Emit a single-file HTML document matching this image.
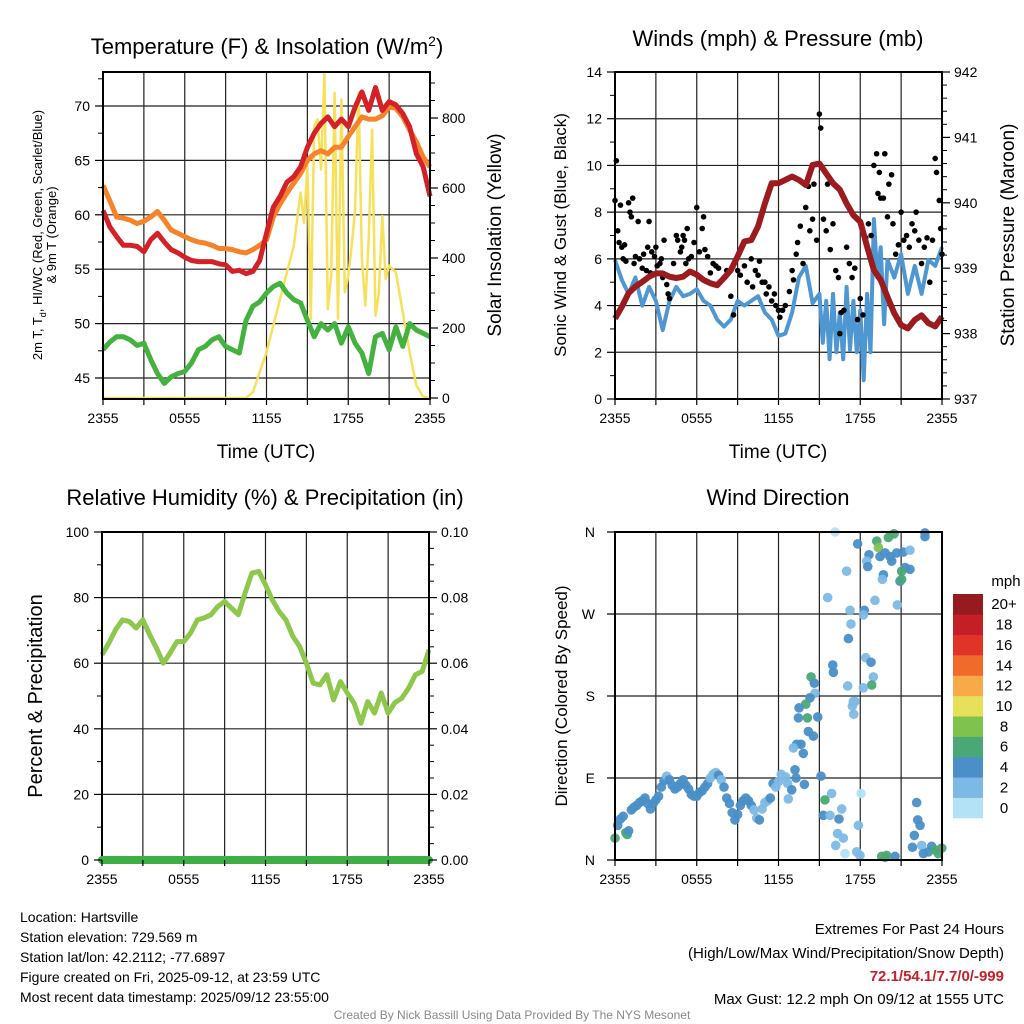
<!DOCTYPE html>
<html><head><meta charset="utf-8">
<style>
html,body{margin:0;padding:0;background:#fff;}
svg{display:block;font-family:"Liberation Sans",Arial,sans-serif;}
</style></head>
<body>
<svg id="chart" width="1024" height="1024" viewBox="0 0 1024 1024" xmlns="http://www.w3.org/2000/svg">
<rect x="0" y="0" width="1024" height="1024" fill="#fff"/>
<!-- titles -->
<text x="267" y="54" font-size="22" text-anchor="middle">Temperature (F) &amp; Insolation (W/m<tspan dy="-8" font-size="14">2</tspan><tspan dy="8">)</tspan></text>
<text x="778" y="46" font-size="22" text-anchor="middle">Winds (mph) &amp; Pressure (mb)</text>
<text x="265" y="505" font-size="22" text-anchor="middle">Relative Humidity (%) &amp; Precipitation (in)</text>
<text x="778" y="505" font-size="22" text-anchor="middle">Wind Direction</text>
<!-- axis titles -->
<text x="266" y="458" font-size="19" text-anchor="middle">Time (UTC)</text>
<text x="778" y="458" font-size="19" text-anchor="middle">Time (UTC)</text>
<text transform="translate(42,235) rotate(-90)" font-size="13" text-anchor="middle">2m T, T<tspan dy="4" font-size="9">d</tspan><tspan dy="-4">, HI/WC (Red, Green, Scarlet/Blue)</tspan></text>
<text transform="translate(56,235) rotate(-90)" font-size="13" text-anchor="middle">&amp; 9m T (Orange)</text>
<text transform="translate(501,235) rotate(-90)" font-size="19" text-anchor="middle">Solar Insolation (Yellow)</text>
<text transform="translate(566,235) rotate(-90)" font-size="17" text-anchor="middle">Sonic Wind &amp; Gust (Blue, Black)</text>
<text transform="translate(1014,235) rotate(-90)" font-size="19" text-anchor="middle">Station Pressure (Maroon)</text>
<text transform="translate(42,696) rotate(-90)" font-size="20" text-anchor="middle">Percent &amp; Precipitation</text>
<text transform="translate(567,696) rotate(-90)" font-size="17" text-anchor="middle">Direction (Colored By Speed)</text>
<!-- footer -->
<g font-size="14">
<text x="20" y="922">Location: Hartsville</text>
<text x="20" y="942">Station elevation: 729.569 m</text>
<text x="20" y="962">Station lat/lon: 42.2112; -77.6897</text>
<text x="20" y="982">Figure created on Fri, 2025-09-12, at 23:59 UTC</text>
<text x="20" y="1002">Most recent data timestamp: 2025/09/12 23:55:00</text>
</g>
<g font-size="15" text-anchor="end">
<text x="1004" y="934">Extremes For Past 24 Hours</text>
<text x="1004" y="958">(High/Low/Max Wind/Precipitation/Snow Depth)</text>
<text x="1004" y="981" fill="#c8202a" font-weight="bold">72.1/54.1/7.7/0/-999</text>
<text x="1004" y="1004">Max Gust: 12.2 mph On 09/12 at 1555 UTC</text>
</g>
<text x="512" y="1019" font-size="12" fill="#888" text-anchor="middle">Created By Nick Bassill Using Data Provided By The NYS Mesonet</text>
<g id="layer"></g>
</svg>
<script>
// ---------- DATA ----------
const tempTimes = [0,0.5,1,1.5,2,2.5,3,3.5,4,4.5,5,5.5,6,6.5,7,7.5,8,8.5,9,9.5,10,10.5,11,11.5,12,12.5,13,13.5,14,14.5,15,15.5,16,16.5,17,17.5,18,18.5,19,19.5,20,20.5,21,21.5,22,22.5,23,23.5,24];
const temp2m = [60.4,58.9,58.0,57.2,57.2,57.1,56.6,57.7,58.3,57.5,56.8,56.5,56.1,55.8,55.7,55.7,55.7,55.5,55.4,54.8,54.9,54.6,54.8,55.8,58.3,60.7,61.7,63.0,63.5,64.4,66.2,67.5,68.4,69.0,68.1,68.8,68.1,69.9,71.3,69.6,71.7,69.6,70.4,70.1,69.3,68.1,65.6,64.4,61.7];
const temp9m = [62.7,61.3,59.8,59.7,59.5,59.2,59.4,59.8,60.3,59.5,58.6,58.3,58.0,57.7,57.5,57.4,57.2,56.9,56.9,56.8,56.6,56.5,56.8,57.2,57.7,59.8,61.0,62.0,62.9,63.8,65.0,65.6,65.9,65.6,66.2,66.2,67.2,68.1,69.0,68.8,68.8,69.1,69.9,69.8,69.0,67.8,66.7,65.3,64.4];
const dewpoint = [47.6,48.3,48.8,48.8,48.5,48.0,48.2,46.7,45.4,44.5,45.1,45.4,45.6,46.4,47.6,47.9,48.5,48.8,47.9,47.6,47.3,50.3,51.6,52.0,52.8,53.4,53.7,52.8,52.2,51.9,50.3,48.8,50.0,49.4,50.0,48.2,49.7,48.2,47.3,45.4,48.8,49.1,47.6,49.7,47.9,50.0,49.4,49.1,48.8];
const solarTimes = [0,10.5,11,11.5,12,12.5,13,13.5,14,14.5,14.75,15,15.25,15.5,15.75,16,16.25,16.5,16.75,17,17.25,17.5,17.75,18,18.25,18.5,18.75,19,19.25,19.5,19.75,20,20.25,20.5,20.75,21,21.5,22,22.5,23,23.5,24];
const solar = [0,0,17,74,131,207,283,359,435,587,501,663,226,777,796,653,929,254,349,872,226,853,302,349,435,539,872,397,264,454,767,235,302,520,340,378,359,245,131,36,3,0];
const windTimes = [0,0.5,1,1.5,2,2.5,3,3.5,4,4.5,5,5.5,6,6.5,7,7.5,8,8.5,9,9.5,10,10.5,11,11.5,12,12.5,13,13.5,14,14.5,15,15.25,15.5,15.75,16,16.25,16.5,16.75,17,17.25,17.5,17.75,18,18.25,18.5,18.75,19,19.25,19.5,19.75,20,20.5,21,21.5,22,22.5,23,23.5,24];
const wind = [5.95,5.1,4.5,5.2,4.0,4.8,4.2,2.95,4.2,4.8,4.4,4.5,4.7,4.2,4.0,3.4,3.1,3.4,4.2,4.0,4.2,4.4,3.7,3.4,2.7,2.8,3.7,5.2,5.7,4.1,4.5,2.4,4.2,1.7,4.5,2.0,3.7,1.7,4.8,2.1,4.2,2.0,3.8,0.8,4.5,2.0,7.7,5.2,6.5,3.2,5.95,5.2,6.2,4.5,5.7,4.5,5.95,5.7,6.5];
const pressure = [938.23,938.41,938.62,938.72,938.79,938.87,938.92,938.92,938.87,938.85,938.87,938.95,938.90,938.82,938.77,938.74,938.85,938.97,939.18,939.41,939.43,939.64,939.99,940.30,940.30,940.35,940.40,940.35,940.27,940.58,940.60,940.45,940.30,940.20,939.99,939.81,939.71,939.33,938.97,938.82,938.56,938.31,938.13,938.08,938.21,938.28,938.16,938.11,938.26];
const gustTimes = [0.0,0.1,0.2,0.3,0.4,0.5,0.6,0.7,0.8,1.0,1.1,1.2,1.3,1.4,1.5,1.7,1.8,2.0,2.1,2.3,2.4,2.5,2.6,2.7,2.9,3.0,3.1,3.3,3.4,3.5,3.6,3.8,3.9,4.0,4.3,4.5,4.6,4.8,4.9,5.0,5.1,5.2,5.3,5.4,5.6,5.8,6.0,6.2,6.4,6.5,6.6,6.8,7.0,7.2,7.4,7.6,8.0,8.2,8.5,8.7,9.0,9.2,9.4,9.5,9.7,10.0,10.1,10.3,10.5,10.6,10.8,11.0,11.1,11.3,11.5,11.7,11.8,12.0,12.1,12.3,12.5,12.8,13.0,13.1,13.3,13.4,13.6,13.8,14.0,14.2,14.3,14.5,14.6,14.8,15.0,15.1,15.3,15.5,15.6,15.8,16.0,16.2,16.4,16.5,16.6,16.8,17.0,17.2,17.4,17.6,17.8,18.0,18.2,18.4,18.6,18.8,19.0,19.2,19.3,19.4,19.5,19.7,19.8,20.0,20.1,20.3,20.4,20.6,20.8,21.0,21.2,21.4,21.6,21.8,22.0,22.1,22.3,22.5,22.7,22.9,23.1,23.3,23.5,23.6,23.8,23.9,24.0];
const gust = [8.5,10.2,7.2,6.7,8.3,6.5,6.0,6.6,5.9,8.4,8.0,7.8,8.6,5.8,6.1,7.6,6.0,5.6,6.2,5.5,6.5,7.6,5.4,6.3,6.1,6.5,5.7,5.8,6.0,5.2,6.8,4.9,4.5,4.3,5.8,7.0,6.8,6.3,6.5,7.0,6.8,5.8,7.3,6.0,6.1,6.7,8.2,6.3,7.3,7.8,6.4,6.1,5.4,5.8,5.7,5.6,5.2,5.5,4.4,3.6,5.5,5.3,6.6,5.7,5.0,6.0,4.8,5.5,5.3,5.9,5.0,5.0,4.5,4.8,4.2,4.5,4.0,3.8,3.5,3.8,4.0,4.6,5.5,5.1,6.2,6.7,7.4,5.8,8.2,9.1,7.2,7.7,9.2,6.8,12.2,11.6,7.7,7.2,9.2,6.4,7.5,5.5,5.2,2.8,3.7,3.8,6.5,5.8,5.2,5.6,3.4,4.3,3.6,6.9,7.5,7.0,10.0,10.5,8.8,9.7,8.6,8.6,10.5,7.8,9.2,9.6,7.5,6.2,6.6,8.0,6.8,7.0,6.5,7.5,7.2,8.0,6.8,5.8,6.5,6.9,5.0,6.8,10.3,9.7,8.5,7.3,6.2];
const rhTimes = tempTimes;
const rh = [62.6,66.1,70.2,73.2,72.7,70.7,73.2,68.7,64.6,60.0,63.1,66.6,66.6,69.2,73.2,73.8,74.8,77.3,78.8,76.8,74.8,81.4,87.5,88.0,83.9,79.3,75.8,73.2,68.2,65.1,60.0,53.9,53.4,56.5,48.8,54.4,50.9,47.8,41.7,48.3,44.8,50.9,44.8,48.0,49.3,52.4,56.5,57.5,64.1];
const precipTimes = [0,24];
const precip = [0,0];
const dirTimes = [0.0,0.2,0.4,0.6,0.8,0.9,1.0,1.2,1.4,1.6,1.8,2.0,2.2,2.4,2.6,2.8,3.0,3.2,3.4,3.6,3.8,4.0,4.2,4.4,4.6,4.8,5.0,5.2,5.4,5.6,5.8,6.0,6.2,6.4,6.6,6.8,7.0,7.2,7.4,7.6,7.8,8.0,8.2,8.4,8.6,8.8,9.0,9.2,9.4,9.6,9.8,10.0,10.2,10.4,10.6,10.8,11.0,11.2,11.4,11.6,11.8,12.0,12.2,
15.41,15.29,15.78,16.44,16.64,16.34,16.76,16.20,16.88,15.12,15.90,18.06,17.86,17.74,17.98,
16.15,15.61,17.00,17.81,18.64,18.47,18.55,19.21,19.33,20.06,20.48,19.45,19.82,20.19,20.31,19.70,19.62,19.08,18.30,18.23,17.25,17.32,17.13,18.40,18.79,18.96,18.84,18.23,17.08,15.98,16.03,17.49,17.62,17.42,17.52,
14.39,14.63,14.68,14.31,14.00,13.51,13.46,14.12,14.88,14.19,14.56,13.33,13.65,13.09,13.82,13.21,13.29,13.90,12.53,12.67,12.97,12.72,
20.67,21.16,21.65,21.29,21.65,21.04,20.92,21.04,20.72,22.75,22.75,
22.14,22.22,22.39,21.97,21.83,22.51,22.63,23.0,23.24,23.49,23.73,23.98,20.55,19.57,19.94,19.82];
const dirDeg = [24,38,45,48,30,28,32,55,58,60,63,65,68,62,56,62,66,70,80,87,92,88,82,78,80,84,88,82,78,72,70,70,74,76,80,84,90,94,96,93,88,80,68,62,52,44,50,60,65,68,65,60,55,46,44,56,63,65,68,84,80,86,94,
66,49,49,45,56,29,24,16,7,92,73,73,38,9,5,
360,288,317,347,335,328,322,350,343,354,358,333,337,333,328,313,308,285,274,269,274,259,243,222,217,201,192,189,191,214,206,174,174,169,160,
201,194,183,178,171,167,156,156,157,141,136,127,127,123,117,99,90,83,91,84,77,67,
337,338,340,321,319,317,306,308,280,359,355,
63,44,38,27,14,16,7,9,15,11,7,13,4,4,5,3];
const dirSpeed = [6,4,4,4,6,6,4,4,4,4,4,4,4,4,4,4,4,4,4,4,2,4,4,4,4,4,4,4,4,4,4,4,4,4,4,4,2,2,2,4,2,4,4,4,4,4,4,4,4,4,4,4,2,2,4,2,2,2,4,4,2,2,2,
6,4,2,4,2,2,2,2,0,4,2,0,2,2,2,
0,2,2,4,4,2,4,6,8,6,6,4,4,4,4,4,2,2,4,2,2,2,4,2,4,2,6,2,2,4,4,2,2,2,2,
6,4,2,4,6,4,4,6,4,4,4,4,4,2,4,4,4,4,2,2,4,2,
4,4,2,4,4,6,4,6,2,4,4,
4,4,4,4,4,2,4,4,4,6,6,6,4,6,6,6];
const speedLabels = ["0","2","4","6","8","10","12","14","16","18","20+"];
const speedColors = ["#b3e2f7","#7db9e5","#4a8fc7","#4aa874","#7fc24e","#e6e05a","#f8aa48","#f06a2c","#e03428","#c41e26","#961a1e"];
const timeTicks = ["2355","0555","1155","1755","2355"];
const tempTicks = [45,50,55,60,65,70];
const solarTicks = [0,200,400,600,800];
const windTicks = [0,2,4,6,8,10,12,14];
const pressTicks = [937,938,939,940,941,942];
const rhTicks = [0,20,40,60,80,100];
const precipTicks = ["0.00","0.02","0.04","0.06","0.08","0.10"];
const dirTicks = ["N","E","S","W","N"];

// ---------- HELPERS ----------
const NS = "http://www.w3.org/2000/svg";
const layer = document.getElementById('layer');
function mk(tag, attrs, parent){
  const e = document.createElementNS(NS, tag);
  for (const k in attrs) e.setAttribute(k, attrs[k]);
  (parent||layer).appendChild(e);
  return e;
}
function lin(d0,d1,r0,r1){ return v => r0 + (v-d0)/(d1-d0)*(r1-r0); }
function linePath(xs, ys, fx, fy){
  return xs.map((t,i)=>(i?'L':'M')+fx(t).toFixed(1)+' '+fy(ys[i]).toFixed(1)).join(' ');
}
function panelFrame(name, L, R, T, B){
  const g = mk('g', {});
  
  
  const fx = lin(0,24,L,R);
  for (let h=3; h<24; h+=3){
    mk('line',{x1:fx(h),x2:fx(h),y1:T,y2:B,stroke:'#222','stroke-width':1.2},g);
  }
  return g;
}
function hgrid(g, ys, L, R){
  ys.forEach(y=>mk('line',{x1:L,x2:R,y1:y,y2:y,stroke:'#222','stroke-width':1.2},g));
}
function border(L,R,T,B,name){
  const r = mk('rect',{x:L,y:T,width:R-L,height:B-T,fill:'none',stroke:'#000','stroke-width':2});
  
  
}
function xTicks(L,R,B,name){
  const g = mk('g',{'font-size':14,'text-anchor':'middle'});
  
  
  const fx = lin(0,24,L,R);
  for (let h=0; h<=24; h+=3) mk('line',{x1:fx(h),x2:fx(h),y1:B,y2:B+6,stroke:'#000','stroke-width':1.2},g);
  timeTicks.forEach((s,i)=>{ const t=mk('text',{x:fx(i*6),y:B+24},g); t.textContent=s; });
}
function yTicksLeft(vals, labels, fy, L, name, minorVals){
  const g = mk('g',{'font-size':14,'text-anchor':'end'});
  
  
  vals.forEach((v,i)=>{
    mk('line',{x1:L-8,x2:L,y1:fy(v),y2:fy(v),stroke:'#000','stroke-width':1.2},g);
    const t=mk('text',{x:L-13,y:fy(v)+5},g); t.textContent=labels[i];
  });
  (minorVals||[]).forEach(v=>mk('line',{x1:L-5,x2:L,y1:fy(v),y2:fy(v),stroke:'#000','stroke-width':1},g));
}
function yTicksRight(vals, labels, fy, R, name, minorVals){
  const g = mk('g',{'font-size':14,'text-anchor':'start'});
  
  
  vals.forEach((v,i)=>{
    mk('line',{x1:R,x2:R+8,y1:fy(v),y2:fy(v),stroke:'#000','stroke-width':1.2},g);
    const t=mk('text',{x:R+12,y:fy(v)+5},g); t.textContent=labels[i];
  });
  (minorVals||[]).forEach(v=>mk('line',{x1:R,x2:R+5,y1:fy(v),y2:fy(v),stroke:'#000','stroke-width':1},g));
}
function range(a,b,s){const r=[];for(let v=a;v<=b+1e-9;v+=s)r.push(+v.toFixed(4));return r;}

// ---------- PANEL 1: Temperature ----------
(function(){
  const L=103,R=430,T=72,B=399;
  const fx=lin(0,24,L,R), fy=lin(70,45,106,378), fs=lin(0,800,398,118);
  const g=panelFrame('temperature',L,R,T,B);
  hgrid(g, tempTicks.map(fy), L, R);
  const s=mk('path',{d:linePath(solarTimes,solar,fx,fs),fill:'none',stroke:'#f7e15a','stroke-width':2.5,'stroke-linejoin':'round'});
  
  
  const d=mk('path',{d:linePath(tempTimes,dewpoint,fx,fy),fill:'none',stroke:'#44b23f','stroke-width':5,'stroke-linejoin':'round'});
  
  
  const o=mk('path',{d:linePath(tempTimes,temp9m,fx,fy),fill:'none',stroke:'#f5832a','stroke-width':5,'stroke-linejoin':'round'});
  
  
  const r=mk('path',{d:linePath(tempTimes,temp2m,fx,fy),fill:'none',stroke:'#d42027','stroke-width':5,'stroke-linejoin':'round'});
  
  
  border(L,R,T,B,'temperature');
  xTicks(L,R,B,'temperature');
  yTicksLeft(tempTicks,tempTicks.map(String),fy,L,'temperature-y-ticks',range(42.5,72.5,5).filter(v=>v>43.1&&v<73));
  yTicksRight(solarTicks,solarTicks.map(String),fs,R,'solar-y-ticks',range(50,900,50).filter(v=>v%200));
})();

// ---------- PANEL 2: Winds ----------
(function(){
  const L=615,R=942,T=72,B=399;
  const fx=lin(0,24,L,R), fy=lin(0,14,399,72), fp=lin(937,942,399,72);
  const g=panelFrame('winds',L,R,T,B);
  hgrid(g, windTicks.map(fy), L, R);
  const w=mk('path',{d:linePath(windTimes,wind,fx,fy),fill:'none',stroke:'#4f97d2','stroke-width':4,'stroke-linejoin':'round'});
  
  
  const gg=mk('g',{});
  
  
  gustTimes.forEach((t,i)=>{
    const c=mk('circle',{cx:fx(t),cy:fy(gust[i]),r:2.8,fill:'#000'},gg);
    
    
  });
  const p=mk('path',{d:linePath(tempTimes,pressure,fx,fp),fill:'none',stroke:'#9b1b1e','stroke-width':6,'stroke-linejoin':'round'});
  
  
  border(L,R,T,B,'winds');
  xTicks(L,R,B,'winds');
  yTicksLeft(windTicks,windTicks.map(String),fy,L,'wind-y-ticks',range(1,13,2));
  yTicksRight(pressTicks,pressTicks.map(String),fp,R,'pressure-y-ticks',range(937.2,941.8,0.2).filter(v=>Math.abs(v-Math.round(v))>0.05));
})();

// ---------- PANEL 3: Humidity ----------
(function(){
  const L=102,R=429,T=532,B=860;
  const fx=lin(0,24,L,R), fy=lin(0,100,860,532), fq=lin(0,0.1,860,532);
  const g=panelFrame('humidity',L,R,T,B);
  hgrid(g, rhTicks.map(fy), L, R);
  const h=mk('path',{d:linePath(rhTimes,rh,fx,fy),fill:'none',stroke:'#8dc84c','stroke-width':5,'stroke-linejoin':'round'});
  
  
  border(L,R,T,B,'humidity');
  const p=mk('path',{d:linePath(precipTimes,precip,fx,fq),fill:'none',stroke:'#3fae45','stroke-width':8,'stroke-linecap':'round'});
  
  
  xTicks(L,R,B,'humidity');
  yTicksLeft(rhTicks,rhTicks.map(String),fy,L,'humidity-y-ticks',range(10,90,20));
  yTicksRight(precipTicks.map(Number),precipTicks,fq,R,'precip-y-ticks',range(0.005,0.095,0.005).filter(v=>Math.abs(v*50-Math.round(v*50))>0.01));
})();

// ---------- PANEL 4: Wind Direction ----------
(function(){
  const L=615,R=942,T=532,B=860;
  const fx=lin(0,24,L,R), fy=lin(0,360,860,532);
  const g=panelFrame('wind-direction',L,R,T,B);
  hgrid(g, [0,90,180,270,360].map(fy), L, R);
  const sg=mk('g',{});
  
  
  dirTimes.forEach((t,i)=>{
    const idx=Math.min(10,Math.max(0,Math.round(dirSpeed[i]/2)));
    const c=mk('circle',{cx:fx(t),cy:fy(dirDeg[i]),r:4.8,fill:speedColors[idx],'fill-opacity':0.95},sg);
    
    
  });
  border(L,R,T,B,'wind-direction');
  xTicks(L,R,B,'wind-direction');
  const tg=mk('g',{'font-size':14,'text-anchor':'end'});
  
  
  dirTicks.forEach((s,i)=>{
    const y=fy(i*90);
    mk('line',{x1:L-8,x2:L,y1:y,y2:y,stroke:'#000','stroke-width':1.2},tg);
    const t=mk('text',{x:L-20,y:y+5},tg); t.textContent=s;
  });
  // colorbar
  const cb=mk('g',{'font-size':15});
  
  
  const cbT=594, cbB=818, h=(cbB-cbT)/speedColors.length;
  const ut=mk('text',{x:1006,y:586,'text-anchor':'middle'},cb); ut.textContent='mph';
  speedColors.forEach((col,i)=>{
    const y=cbB-(i+1)*h;
    const r=mk('rect',{x:953,y:y,width:30,height:h+0.3,fill:col},cb);
    
    
    const t=mk('text',{x:1004,y:y+h/2+5,'text-anchor':'middle'},cb); t.textContent=speedLabels[i];
  });
})();
</script>
</body></html>
